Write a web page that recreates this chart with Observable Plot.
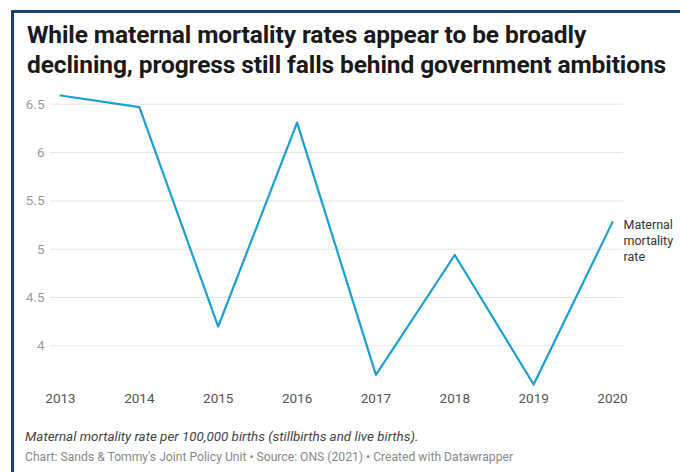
<!DOCTYPE html>
<html>
<head>
<meta charset="utf-8">
<script src="https://cdn.jsdelivr.net/npm/d3@7"></script>
<script src="https://cdn.jsdelivr.net/npm/@observablehq/plot@0.6"></script>
<style>
  html, body { margin: 0; padding: 0; background: #fff; width: 680px; height: 472px; overflow: hidden; font-family: Roboto, "Noto Sans", sans-serif; }
  #frame { position: absolute; left: 11px; top: 10px; width: 669px; height: 462px; border-left: 3px solid #1d3f6e; border-top: 3px solid #1d3f6e; box-sizing: border-box; }
  #title { position: absolute; left: 27px; top: 20px; font-size: 24.5px; font-weight: 700; line-height: 30px; color: #1a1a1a; letter-spacing: -0.1px; white-space: nowrap; }
  #chart { position: absolute; left: 0; top: 85px; }
  #caption { position: absolute; left: 25px; top: 429px; font-size: 13.4px; font-style: italic; color: #444; }
  #credit { position: absolute; left: 25px; top: 450px; font-size: 12.15px; color: #888; }
</style>
</head>
<body>
<div id="frame"></div>
<div id="title">While maternal mortality rates appear to be broadly<br>declining, progress still falls behind government ambitions</div>
<div id="chart"></div>
<div id="caption">Maternal mortality rate per 100,000 births (stillbirths and live births).</div>
<div id="credit">Chart: Sands &amp; Tommy's Joint Policy Unit • Source: ONS (2021) • Created with Datawrapper</div>
<script>
const years = [2013, 2014, 2015, 2016, 2017, 2018, 2019, 2020];
const rates = [6.59, 6.47, 4.2, 6.31, 3.7, 4.94, 3.6, 5.28];
const yTicks = [4, 4.5, 5, 5.5, 6, 6.5];
const seriesLabel = "Maternal\nmortality\nrate";

const data = years.map((year, i) => ({year, rate: rates[i]}));
const last = data[data.length - 1];

const chart = Plot.plot({
  width: 680,
  height: 324,
  marginTop: 10,
  marginBottom: 25,
  marginLeft: 50,
  marginRight: 57,
  style: {fontFamily: "Roboto, sans-serif", fontSize: "13px", background: "transparent"},
  x: {domain: [2013, 2020], insetLeft: 10, insetRight: 11},
  y: {domain: [3.6, 6.59]},
  marks: [
    Plot.ruleY(yTicks, {stroke: "#e5e5e5", strokeWidth: 1}),
    Plot.axisY(yTicks, {tickSize: 0, tickPadding: 6, tickFormat: d => String(d), fill: "#9a9a9a", label: null, fontSize: 13.5}),
    Plot.axisX(years, {tickSize: 0, tickPadding: 9, tickFormat: d => String(d), fill: "#555", label: null, fontSize: 13.5}),
    Plot.line(data, {x: "year", y: "rate", stroke: "#1a9fd4", strokeWidth: 2.2}),
    Plot.text([last], {x: "year", y: "rate", text: () => seriesLabel, textAnchor: "start", lineAnchor: "top", dx: 11, dy: -4, lineHeight: 1.28, fontSize: 12.5, fill: "#333"})
  ]
});
document.getElementById("chart").appendChild(chart);
</script>
</body>
</html>
